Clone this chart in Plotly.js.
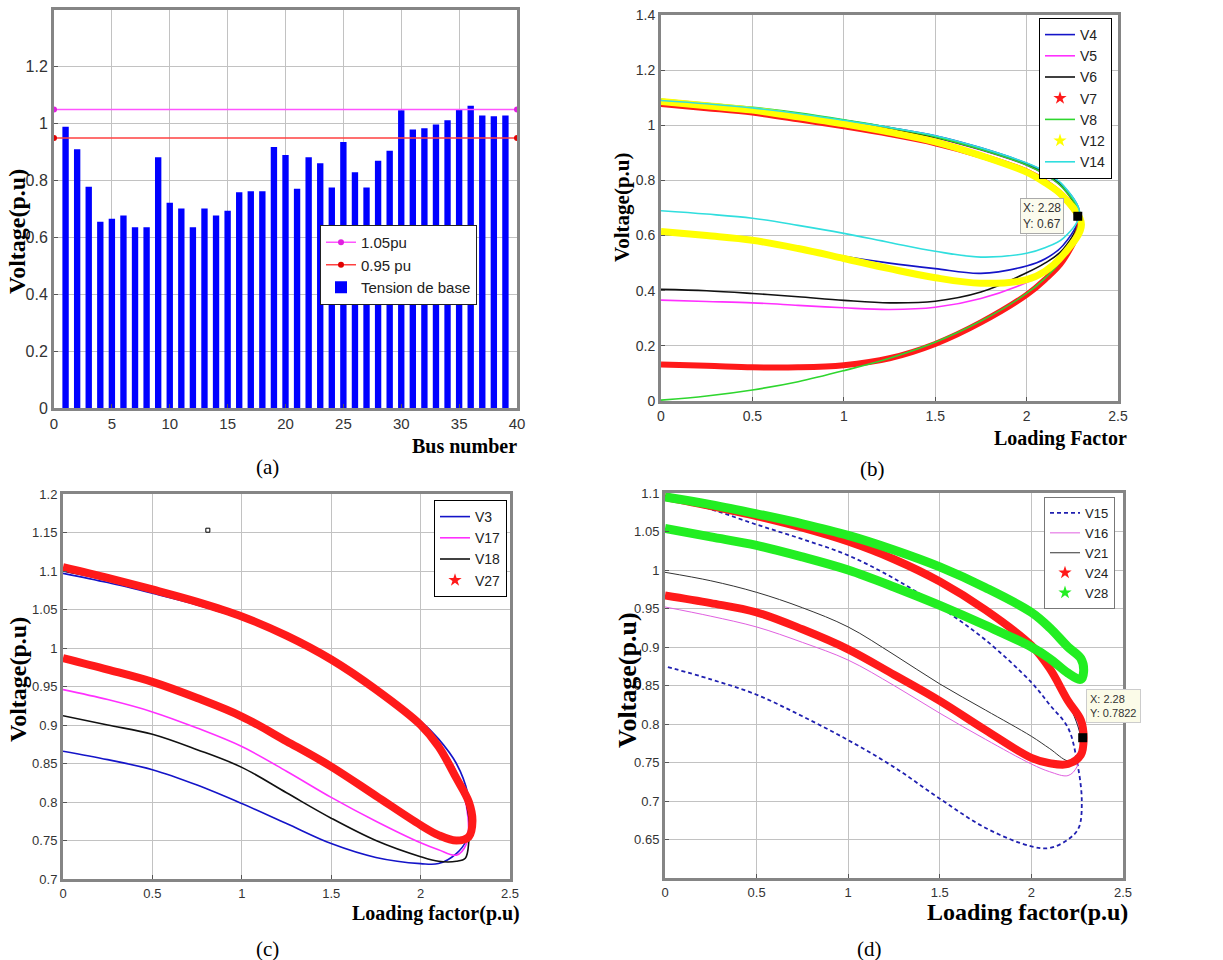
<!DOCTYPE html>
<html><head><meta charset="utf-8">
<script src="https://cdn.plot.ly/plotly-3.0.1.min.js"></script>
<style>html,body{margin:0;padding:0;background:#fff}#chart{width:1223px;height:960px}</style>
</head><body><div id="chart"></div>
<script>
// ---------- (a) bus voltages ----------
const busNumbers = [1,2,3,4,5,6,7,8,9,10,11,12,13,14,15,16,17,18,19,20,21,22,23,24,25,26,27,28,29,30,31,32,33,34,35,36,37,38,39];
const busVoltage = [0.989,0.91,0.778,0.655,0.666,0.677,0.636,0.636,0.882,0.722,0.702,0.636,0.702,0.677,0.694,0.759,0.762,0.762,0.918,0.89,0.771,0.882,0.861,0.776,0.936,0.829,0.776,0.87,0.905,1.047,0.98,0.984,0.997,1.012,1.05,1.063,1.029,1.026,1.029];
const limitX = [0, 40];
const upperLimit = [1.05, 1.05];
const lowerLimit = [0.95, 0.95];

// ---------- shared loading-factor grid ----------
const lfGrid = [0, 0.25, 0.5, 0.75, 1, 1.25, 1.5, 1.75, 2, 2.1, 2.2];

// ---------- (b) ----------
const V4_upper = [1.088,1.076,1.062,1.042,1.018,0.992,0.962,0.918,0.862,0.83,0.78];
const V4_noseLF = [2.29], V4_noseV = [0.68];
const V4_lower = [0.605,0.595,0.58,0.555,0.525,0.5,0.48,0.463,0.49,0.515,0.565];
const V5_upper = [1.08,1.068,1.054,1.034,1.01,0.984,0.954,0.91,0.855,0.822,0.772];
const V5_noseLF = [2.285], V5_noseV = [0.665];
const V5_lower = [0.366,0.361,0.356,0.347,0.338,0.332,0.34,0.372,0.43,0.465,0.525];
const V6_upper = [1.082,1.07,1.056,1.036,1.012,0.986,0.956,0.912,0.857,0.824,0.774];
const V6_noseLF = [2.285], V6_noseV = [0.665];
const V6_lower = [0.405,0.4,0.39,0.378,0.365,0.356,0.362,0.395,0.465,0.5,0.55];
const V7_upper = [1.077,1.062,1.046,1.022,0.996,0.968,0.935,0.89,0.832,0.795,0.742];
const V7_noseLF = [2.29], V7_noseV = [0.65];
const V7_lower = [0.132,0.128,0.122,0.122,0.13,0.155,0.207,0.285,0.385,0.44,0.51];
const V8_upper = [1.094,1.08,1.065,1.045,1.02,0.992,0.958,0.912,0.856,0.822,0.772];
const V8_noseLF = [2.29], V8_noseV = [0.67];
const V8_lower = [0.003,0.018,0.04,0.07,0.11,0.155,0.213,0.29,0.39,0.445,0.52];
const V12_upper = [1.086,1.071,1.055,1.031,1.005,0.975,0.94,0.89,0.83,0.792,0.742];
const V12_noseLF = [2.3], V12_noseV = [0.64];
const V12_lower = [0.615,0.6,0.583,0.553,0.517,0.48,0.447,0.427,0.44,0.47,0.53];
const V14_upper = [1.09,1.078,1.063,1.043,1.018,0.992,0.962,0.918,0.863,0.832,0.782];
const V14_noseLF = [2.29], V14_noseV = [0.68];
const V14_lower = [0.69,0.678,0.663,0.637,0.608,0.575,0.543,0.522,0.536,0.556,0.59];
const tipB_LF = [2.28], tipB_V = [0.67];

// ---------- (c) ----------
const V3_upper = [1.097,1.085,1.071,1.056,1.038,1.014,0.985,0.948,0.905,0.882,0.85];
const V3_noseLF = [2.265,2.275,2.255], V3_noseV = [0.81,0.78,0.75];
const V3_lower = [0.866,0.855,0.842,0.822,0.798,0.772,0.746,0.728,0.72,0.72,0.733];
const V17_upper = [1.1,1.088,1.075,1.059,1.04,1.016,0.986,0.948,0.902,0.876,0.838];
const V17_noseLF = [2.265,2.255], V17_noseV = [0.78,0.745];
const V17_lower = [0.946,0.933,0.917,0.896,0.872,0.84,0.806,0.775,0.747,0.738,0.731];
const V18_upper = [1.1,1.088,1.075,1.059,1.04,1.016,0.986,0.948,0.902,0.876,0.838];
const V18_noseLF = [2.27,2.27,2.25], V18_noseV = [0.78,0.75,0.727];
const V18_lower = [0.912,0.9,0.888,0.868,0.845,0.812,0.779,0.75,0.729,0.723,0.723];
const V27_upper = [1.105,1.091,1.076,1.06,1.041,1.016,0.985,0.946,0.9,0.872,0.831];
const V27_noseLF = [2.27,2.29,2.27], V27_noseV = [0.8,0.775,0.755];
const V27_lower = [0.987,0.972,0.956,0.935,0.911,0.879,0.846,0.808,0.77,0.757,0.75];
const strayC_LF = [0.81], strayC_V = [1.153];

// ---------- (d) ----------
const V15_upper = [1.096,1.079,1.059,1.04,1.019,0.989,0.952,0.909,0.854,0.825,0.795];
const V15_noseLF = [2.25,2.275,2.258], V15_noseV = [0.75,0.70,0.665];
const V15_lower = [0.875,0.858,0.838,0.81,0.779,0.744,0.703,0.665,0.641,0.639,0.65];
const V16_upper = [1.1,1.087,1.073,1.057,1.038,1.014,0.984,0.946,0.9,0.87,0.83];
const V16_noseLF = [2.27,2.25], V16_noseV = [0.78,0.745];
const V16_lower = [0.952,0.94,0.926,0.906,0.883,0.85,0.814,0.78,0.748,0.738,0.733];
const V21_upper = [1.097,1.084,1.07,1.054,1.035,1.011,0.982,0.944,0.898,0.868,0.828];
const V21_noseLF = [2.27,2.25], V21_noseV = [0.78,0.755];
const V21_lower = [0.997,0.986,0.971,0.951,0.926,0.89,0.852,0.818,0.784,0.768,0.752];
const V24_upper = [1.095,1.083,1.07,1.055,1.037,1.014,0.985,0.948,0.902,0.872,0.83];
const V24_noseLF = [2.27,2.285,2.27], V24_noseV = [0.805,0.782,0.76];
const V24_lower = [0.967,0.957,0.945,0.923,0.897,0.864,0.83,0.792,0.756,0.749,0.748];
const V28_upper = [1.095,1.085,1.073,1.06,1.045,1.026,1.004,0.977,0.945,0.925,0.9];
const V28_noseLF = [2.27,2.285,2.27], V28_noseV = [0.885,0.868,0.858];
const V28_lower = [1.054,1.043,1.032,1.017,1.0,0.978,0.954,0.928,0.9,0.885,0.866];
const tipD_LF = [2.28], tipD_V = [0.7822];

// ---------- helpers ----------
function loop(up, nx, ny, low) {
  const rev = lfGrid.slice().reverse();
  return { x: lfGrid.concat(nx, rev), y: up.concat(ny, low.slice().reverse()) };
}
const traces = [];
function curve(name, up, nx, ny, low, ax, leg, color, width, dash) {
  const p = loop(up, nx, ny, low);
  traces.push({type:'scatter', mode:'lines', x:p.x, y:p.y, name:name, xaxis:'x'+ax, yaxis:'y'+ax, legend:leg,
    line:{color:color, width:width, shape:'spline', smoothing:1, dash:dash||'solid'}});
}
function band(name, up, nx, ny, low, ax, leg, color, width) {
  const p = loop(up, nx, ny, low);
  traces.push({type:'scatter', mode:'lines', x:p.x, y:p.y, name:name, xaxis:'x'+ax, yaxis:'y'+ax, legend:leg, showlegend:false,
    line:{color:color, width:width, shape:'spline', smoothing:1}});
  traces.push({type:'scatter', mode:'markers', x:[null], y:[null], name:name, xaxis:'x'+ax, yaxis:'y'+ax, legend:leg,
    marker:{symbol:'star', size:10, color:color}});
}

// (a)
traces.push({type:'scatter', mode:'lines+markers', x:limitX, y:upperLimit, name:'1.05pu', xaxis:'x', yaxis:'y', legend:'legend',
  line:{color:'#ff55ff', width:1.5}, marker:{color:'#e020e0', size:6}, cliponaxis:false});
traces.push({type:'scatter', mode:'lines+markers', x:limitX, y:lowerLimit, name:'0.95 pu', xaxis:'x', yaxis:'y', legend:'legend',
  line:{color:'#ff4040', width:1.5}, marker:{color:'#e00000', size:6}, cliponaxis:false});
traces.push({type:'bar', x:busNumbers, y:busVoltage, name:'Tension de base', xaxis:'x', yaxis:'y', legend:'legend',
  width:0.55, marker:{color:'#0000ff', line:{width:0}}});

// (b)
curve('V4', V4_upper, V4_noseLF, V4_noseV, V4_lower, 2, 'legend2', '#1414c8', 1.6);
curve('V5', V5_upper, V5_noseLF, V5_noseV, V5_lower, 2, 'legend2', '#ff30ff', 1.6);
curve('V6', V6_upper, V6_noseLF, V6_noseV, V6_lower, 2, 'legend2', '#111111', 1.6);
band('V7', V7_upper, V7_noseLF, V7_noseV, V7_lower, 2, 'legend2', '#ff1a1a', 6);
curve('V8', V8_upper, V8_noseLF, V8_noseV, V8_lower, 2, 'legend2', '#2ed62e', 1.6);
band('V12', V12_upper, V12_noseLF, V12_noseV, V12_lower, 2, 'legend2', '#ffff00', 7);
curve('V14', V14_upper, V14_noseLF, V14_noseV, V14_lower, 2, 'legend2', '#30dede', 1.6);
traces.push({type:'scatter', mode:'markers', x:tipB_LF, y:tipB_V, xaxis:'x2', yaxis:'y2', showlegend:false,
  marker:{symbol:'square', size:9, color:'#000'}});

// (c)
curve('V3', V3_upper, V3_noseLF, V3_noseV, V3_lower, 3, 'legend3', '#1414c8', 1.6);
curve('V17', V17_upper, V17_noseLF, V17_noseV, V17_lower, 3, 'legend3', '#ff30ff', 1.6);
curve('V18', V18_upper, V18_noseLF, V18_noseV, V18_lower, 3, 'legend3', '#111111', 1.6);
band('V27', V27_upper, V27_noseLF, V27_noseV, V27_lower, 3, 'legend3', '#ff1a1a', 8);
traces.push({type:'scatter', mode:'markers', x:strayC_LF, y:strayC_V, xaxis:'x3', yaxis:'y3', showlegend:false,
  marker:{symbol:'square-open', size:4, color:'#000', line:{width:1}}});

// (d)
curve('V15', V15_upper, V15_noseLF, V15_noseV, V15_lower, 4, 'legend4', '#2020b0', 1.8, '4px,3px');
curve('V16', V16_upper, V16_noseLF, V16_noseV, V16_lower, 4, 'legend4', '#e060e0', 1);
curve('V21', V21_upper, V21_noseLF, V21_noseV, V21_lower, 4, 'legend4', '#333333', 1);
band('V24', V24_upper, V24_noseLF, V24_noseV, V24_lower, 4, 'legend4', '#ff1a1a', 8);
band('V28', V28_upper, V28_noseLF, V28_noseV, V28_lower, 4, 'legend4', '#22ee22', 9);
traces.push({type:'scatter', mode:'markers', x:tipD_LF, y:tipD_V, xaxis:'x4', yaxis:'y4', showlegend:false,
  marker:{symbol:'square', size:9, color:'#000'}});

// ---------- layout ----------
const W = 1223, H = 960;
const px = v => v / W, py = v => 1 - v / H;
function ax(domain, range, extra, fontSize, fontFam) {
  return Object.assign({domain:domain, range:range, showline:true, mirror:true, linecolor:'#858585', linewidth:3,
    showgrid:true, gridcolor:'#c2c2c2', gridwidth:1, zeroline:false, ticks:'inside', ticklen:4, tickcolor:'#555',
    tickfont:{family:fontFam || 'Liberation Sans, Arial, sans-serif', size:fontSize, color:'#333'}, fixedrange:true}, extra);
}
const serif = 'Liberation Serif, Times New Roman, serif';
const sans = 'Liberation Sans, Arial, sans-serif';
const narrow = 'Liberation Sans Narrow, Arial Narrow, Liberation Sans, sans-serif';
function ann(text, x, y, size, opts) {
  return Object.assign({text:text, xref:'paper', yref:'paper', x:x, y:y, showarrow:false,
    font:{family:serif, size:size, color:'#000'}, xanchor:'center', yanchor:'middle'}, opts || {});
}
const layout = {
  width: W, height: H, margin:{l:0, r:0, t:0, b:0}, paper_bgcolor:'#fff', plot_bgcolor:'#fff', showlegend:true,
  xaxis: ax([px(54), px(517)], [0, 40], {anchor:'y', tickvals:[0,5,10,15,20,25,30,35,40]}, 15),
  yaxis: ax([1-408/H, 1-10/H], [0, 1.4], {anchor:'x', tickvals:[0,0.2,0.4,0.6,0.8,1,1.2]}, 16),
  xaxis2: ax([px(661), px(1118)], [0, 2.5], {anchor:'y2', dtick:0.5}, 14),
  yaxis2: ax([1-401/H, 1-15/H], [0, 1.4], {anchor:'x2', dtick:0.2}, 14),
  xaxis3: ax([px(63), px(510)], [0, 2.5], {anchor:'y3', dtick:0.5}, 13),
  yaxis3: ax([1-879/H, 1-494/H], [0.7, 1.2], {anchor:'x3', dtick:0.05}, 13),
  xaxis4: ax([px(665), px(1123)], [0, 2.5], {anchor:'y4', dtick:0.5}, 13, narrow),
  yaxis4: ax([1-878/H, 1-493/H], [0.6, 1.1], {anchor:'x4', tickvals:[0.65,0.7,0.75,0.8,0.85,0.9,0.95,1,1.05,1.1]}, 13, narrow),
  legend: {x:px(320), y:py(225), xanchor:'left', yanchor:'top', bgcolor:'#fff', bordercolor:'#222', borderwidth:1,
    font:{family:sans, size:15, color:'#222'}, traceorder:'normal'},
  legend2: {x:px(1112), y:py(18), xanchor:'right', yanchor:'top', bgcolor:'#fff', bordercolor:'#000', borderwidth:1,
    font:{family:sans, size:14, color:'#222'}, traceorder:'normal'},
  legend3: {x:px(507), y:py(500), xanchor:'right', yanchor:'top', bgcolor:'#fff', bordercolor:'#000', borderwidth:1,
    font:{family:sans, size:14, color:'#222'}, traceorder:'normal'},
  legend4: {x:px(1115), y:py(497), xanchor:'right', yanchor:'top', bgcolor:'#fff', bordercolor:'#777', borderwidth:1,
    font:{family:narrow, size:13, color:'#222'}, traceorder:'normal'},
  annotations: [
    ann('<b>Voltage(p.u)</b>', px(17), py(232), 24, {textangle:-90}),
    ann('<b>Bus number</b>', px(519), py(446), 20, {xanchor:'right'}),
    ann('(a)', px(267), py(467), 21),
    ann('<b>Voltage(p.u)</b>', px(622), py(208), 21, {textangle:-90}),
    ann('<b>Loading Factor</b>', px(1129), py(438), 20, {xanchor:'right'}),
    ann('(b)', px(872), py(469), 21),
    ann('<b>Voltage(p.u)</b>', px(18), py(680), 24, {textangle:-90}),
    ann('<b>Loading factor(p.u)</b>', px(522), py(913), 20, {xanchor:'right'}),
    ann('(c)', px(267), py(949), 21),
    ann('<b>Voltage(p.u)</b>', px(627), py(680), 26, {textangle:-90}),
    ann('<b>Loading factor(p.u)</b>', px(1130), py(912), 24, {xanchor:'right'}),
    ann('(d)', px(870), py(949), 21),
    ann('X: 2.28<br>Y: 0.67', px(1064), py(216), 12, {xanchor:'right', align:'left', bgcolor:'#fbfbee', bordercolor:'#aaa', borderwidth:1, borderpad:2, font:{family:sans, size:12, color:'#333'}}),
    ann('X: 2.28<br>Y: 0.7822', px(1086), py(706), 11, {xanchor:'left', align:'left', bgcolor:'#fbfbe8', bordercolor:'#ccc', borderwidth:1, borderpad:3, font:{family:narrow, size:11, color:'#333'}})
  ]
};
Plotly.newPlot('chart', traces, layout, {displayModeBar:false, staticPlot:true});
</script></body></html>
